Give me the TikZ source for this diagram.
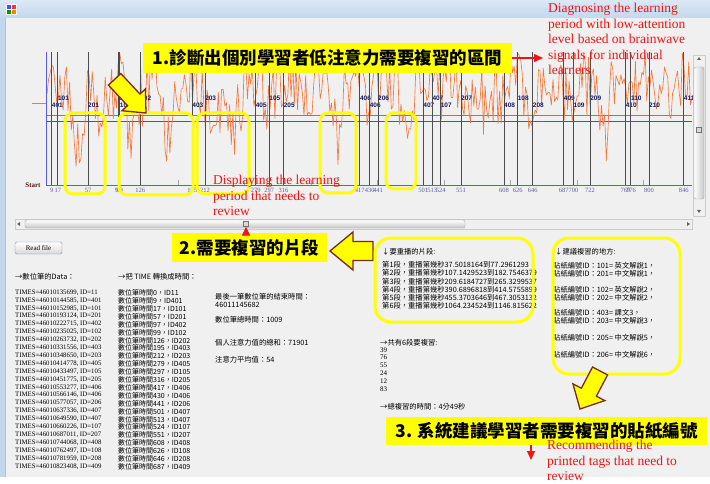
\documentclass[tikz,border=0pt]{standalone}
\usepackage{fontspec}
\setmainfont{Liberation Serif}
\newfontfamily\cjk{Noto Sans CJK TC}
\newfontfamily\uifont{Liberation Sans}
\usetikzlibrary{arrows.meta,positioning}
\definecolor{winbg}{HTML}{F0F0F0}
\definecolor{titletop}{HTML}{DCE8F5}
\definecolor{titlebot}{HTML}{C3D7EC}
\definecolor{marker}{HTML}{FFFF00}
\definecolor{wave}{HTML}{F4783C}
\definecolor{navy}{HTML}{1A1A60}
\definecolor{tickblue}{HTML}{5A5AA8}
\definecolor{axisblue}{HTML}{5A5AF0}
\definecolor{annot}{HTML}{F01414}
\definecolor{arrowrim}{HTML}{7A2A1A}
\definecolor{startred}{HTML}{5A1414}
\pgfmathdeclarefunction{dip}{3}{\pgfmathparse{max(0,1-abs(#1-#2)/#3)}}
\begin{document}
\begin{tikzpicture}[x=1pt,y=-1pt,
  every node/.style={inner sep=0pt},
  small/.style={font=\cjk\fontsize{7.3}{8.2}\selectfont, anchor=west},
  datafont/.style={font=\fontsize{6.8}{7.9}\selectfont, anchor=north west, align=left},
  titlebox/.style={fill=marker, text=black, font=\cjk\bfseries\fontsize{17.5}{20}\selectfont},
  note/.style={text=annot, font=\fontsize{13.5}{15.6}\selectfont, align=left, anchor=north west},
  redarrow/.style={draw=annot, line width=1.4pt, -{Triangle[length=9pt,width=8pt]}},
  markbox/.style={draw=marker, line width=3pt, rounded corners=8pt},
  bigarrow/.style={fill=marker, draw=arrowrim, line width=1.3pt, line join=miter},
  vline/.style={draw=black!70, line width=0.8pt},
  idlabel/.style={font=\uifont\bfseries\fontsize{6.5}{7}\selectfont, text=navy, anchor=west},
  ticklabel/.style={font=\fontsize{6.5}{7}\selectfont, text=tickblue}]
\useasboundingbox (0,0) rectangle (710,484);
% window frame
\fill[white] (0,0) rectangle (710,484);
\fill[winbg] (0,18) rectangle (710,477);
\shade[top color=titletop, bottom color=titlebot] (0,0) rectangle (710,18);
\fill[titlebot] (0,18) rectangle (5,477);
\draw[black!25] (5,18) -- (5,477);
\fill[white] (6,4) rectangle (17,15);
\fill[blue!70] (7,5) rectangle (11,9);
\fill[red!80] (12,5) rectangle (16,9);
\fill[green!60!black] (7,10) rectangle (11,14);
\fill[orange] (12,10) rectangle (16,14);
% brainwave chart
\draw[red!70, line width=0.8pt] (46,115) -- (692,115);
\draw[green!60!black, line width=0.8pt] (46,121) -- (692,121);
\pgfmathsetseed{11}
\draw[wave, line width=0.65pt, line join=round] plot[domain=47:692, samples=400]
  (\x, {max(53, min(176, 88 + 33*rand + 12*sin(11*\x)
   + 62*dip(\x,79,12) + 40*dip(\x,98,5) + 30*dip(\x,128,4)
   + 55*dip(\x,132,8) + 45*dip(\x,168,10) + 50*dip(\x,225,18)
   + 55*dip(\x,338,7) + 50*dip(\x,409,6) + 35*dip(\x,485,6)
   + 50*dip(\x,606,7)))});
\draw[wave, line width=0.65pt] (32,103) -- (46,103);
\foreach \t/\id/\lv in {9/401/105, 17/101/98, 57/201/105, 97/402/98, 99/102/105,
    126/202/98, 195/403/105, 212/203/98, 279/405/105, 297/105/98, 316/205/105,
    417/406/98, 430/406/105, 441/206/98, 501/407/105, 513/407/98, 524/107/105,
    551/207/98, 608/408/105, 626/108/98, 646/208/105, 687/409/98, 700/109/105,
    722/209/98, 769/410/105, 776/110/98, 800/210/105, 846/411/98}
{
  \pgfmathsetmacro\xx{45+0.755*\t}
  \draw[vline] (\xx,52) -- (\xx,186);
  \node[idlabel] (id\t) at (\xx,\lv) {\id};
  \node[ticklabel] (tk\t) at (\xx,190.5) {\t};
}
\foreach \k in {0,...,7}
  \draw[black!35, line width=0.8pt] (178+66.5*\k,180) -- (178+66.5*\k,186);
\draw[axisblue, line width=1pt] (46,52) -- (46,186) -- (692,186);
\node[font=\bfseries\fontsize{7}{8}\selectfont, text=startred] (start) at (33,185) {Start};
% low-attention periods
\draw[markbox] (65,113) rectangle (105,194);
\draw[markbox] (119,113) rectangle (193,195);
\draw[markbox] (197,113) rectangle (249,194);
\draw[markbox] (320,113) rectangle (356,193);
\draw[markbox] (386,113) rectangle (416,189);
% scrollbars
\draw[fill=black!6, draw=black!20] (15,219) rectangle (692,229);
\draw[rounded corners=2pt, top color=white, bottom color=black!22, draw=black!35] (25,220) rectangle (465,228);
\node[draw=black!55, fill=black!15, minimum width=5, minimum height=5] (grip) at (246,224) {};
\fill[black!60] (17,224) -- (20,222) -- (20,226) -- cycle;
\fill[black!60] (690,224) -- (687,222) -- (687,226) -- cycle;
\draw[fill=black!6, draw=black!20] (693,55) rectangle (705,216);
\draw[rounded corners=2pt, left color=white, right color=black!22, draw=black!35] (694,67) rectangle (704,199);
\node[draw=black!55, fill=black!15, minimum width=5, minimum height=5] (vgrip) at (699,130) {};
\fill[black!60] (699,57) -- (697,60) -- (701,60) -- cycle;
\fill[black!60] (699,213) -- (697,210) -- (701,210) -- cycle;
% step 1
\node[titlebox, minimum width=369, minimum height=30] (title1) at (327.5,58) {1.診斷出個別學習者低注意力需要複習的區間};
\node[note] (note1) at (548,3) {Diagnosing the learning\\period with low-attention\\level based on brainwave\\signals for individual\\learners};
\draw[redarrow] (title1.east) -- ([xshift=-5pt]note1.west |- title1.east);
\draw[bigarrow, shift={(146,113)}, rotate=-47] (0,0) -- (-18,-16) -- (-18,-8.5) -- (-46,-8.5) -- (-46,8.5) -- (-18,8.5) -- (-18,16) -- cycle;
\node[note] (note2) at (213,175) {Displaying the learning\\period that needs to\\review};
% step 2
\node[titlebox, minimum width=155, minimum height=29] (title2) at (249.5,247.5) {2.需要複習的片段};
\draw[redarrow] (title2.north -| grip.south) -- (grip.south);
\draw[bigarrow, shift={(330,251)}, rotate=180] (0,0) -- (-23,-19) -- (-23,-9.5) -- (-43,-9.5) -- (-43,9.5) -- (-23,9.5) -- (-23,19) -- cycle;
% read-out panel
\node[draw={rgb,255:red,112;green,144;blue,176}, rounded corners=2pt, top color=white, bottom color=black!15,
  minimum width=47, minimum height=12, font=\fontsize{7}{8}\selectfont] (readbtn) at (38.5,248) {Read file};
\node[small] (hdata) at (15,277) {→數位筆的Data：};
\node[small] (htime) at (118,277) {→把 TIME 轉換成時間：};
\node[datafont] (rawdata) at (15,289.5) {TIMES=46010135699, ID=11\\TIMES=46010144585, ID=401\\TIMES=46010152985, ID=101\\TIMES=46010193124, ID=201\\TIMES=46010222715, ID=402\\TIMES=46010235025, ID=102\\TIMES=46010263732, ID=202\\TIMES=46010331556, ID=403\\TIMES=46010348650, ID=203\\TIMES=46010414778, ID=405\\TIMES=46010433497, ID=105\\TIMES=46010451775, ID=205\\TIMES=46010553277, ID=406\\TIMES=46010566146, ID=406\\TIMES=46010577057, ID=206\\TIMES=46010637336, ID=407\\TIMES=46010649590, ID=407\\TIMES=46010660226, ID=107\\TIMES=46010687011, ID=207\\TIMES=46010744068, ID=408\\TIMES=46010762497, ID=108\\TIMES=46010781959, ID=208\\TIMES=46010823408, ID=409};
\node[datafont, font=\cjk\fontsize{7}{7.9}\selectfont] (pentime) at (118,289.5) {數位筆時間0，ID11\\數位筆時間9，ID401\\數位筆時間17，ID101\\數位筆時間57，ID201\\數位筆時間97，ID402\\數位筆時間99，ID102\\數位筆時間126，ID202\\數位筆時間195，ID403\\數位筆時間212，ID203\\數位筆時間279，ID405\\數位筆時間297，ID105\\數位筆時間316，ID205\\數位筆時間417，ID406\\數位筆時間430，ID406\\數位筆時間441，ID206\\數位筆時間501，ID407\\數位筆時間513，ID407\\數位筆時間524，ID107\\數位筆時間551，ID207\\數位筆時間608，ID408\\數位筆時間626，ID108\\數位筆時間646，ID208\\數位筆時間687，ID409};
\node[small] (lastend) at (215,297) {最後一筆數位筆的結束時間：};
\node[small] (lastval) at (215,305) {46011145682};
\node[small] (total) at (215,320) {數位筆總時間：1009};
\node[small] (sum) at (215,343) {個人注意力值的總和：71901};
\node[small] (mean) at (215,360) {注意力平均值：54};
% segments to replay
\node[small] (hreplay) at (382,252) {↓要重播的片段:};
\foreach \yy/\txt [count=\k] in {265/第1段，重播第幾秒37.5018164到77.2961293,
    273.2/第2段，重播第幾秒107.1429523到182.7546379, 281.4/第3段，重播第幾秒209.6184727到265.3299537,
    289.6/第4段，重播第幾秒390.6896818到414.5755899, 297.8/第5段，重播第幾秒455.3703646到467.3053132,
    306/第6段，重播第幾秒1064.234524到1146.815622}
  \node[small] (seg\k) at (382,\yy) {\txt};
\draw[markbox, rounded corners=16pt] (375,238) rectangle (533,322);
\node[small] (hcount) at (380,343) {→共有6段要複習:};
\foreach \yy/\n in {350/39, 357.5/76, 365/55, 373/24, 381/12, 389/83}
  \node[font=\fontsize{7}{8}\selectfont, anchor=west] (cnt\n) at (380,\yy) {\n};
\node[small] (htotal) at (380,407) {→總複習的時間：4分49秒};
% recommended tags
\node[small] (htags) at (555,252) {↓建議複習的地方:};
\foreach \yy/\txt [count=\k] in {266/貼紙編號ID：101= 英文解說1，, 274/貼紙編號ID：201= 中文解說1，,
    290/貼紙編號ID：102= 英文解說2，, 298/貼紙編號ID：202= 中文解說2，,
    313/貼紙編號ID：403= 課文3，, 321/貼紙編號ID：203= 中文解說3，,
    338/貼紙編號ID：205= 中文解說5，, 355/貼紙編號ID：206= 中文解說6，}
  \node[small] (tag\k) at (553,\yy) {\txt};
\draw[markbox, rounded corners=16pt] (553,238) rectangle (680,374);
% step 3
\draw[bigarrow, shift={(580,409)}, rotate=-117.8] (0,0) -- (-19,-18) -- (-19,-8.5) -- (-43,-8.5) -- (-43,8.5) -- (-19,8.5) -- (-19,18) -- cycle;
\node[titlebox, minimum width=321, minimum height=28] (title3) at (546.5,431) {3. 系統建議學習者需要複習的貼紙編號};
\coordinate (n3tip) at (531,460);
\draw[redarrow] (title3.south -| n3tip) -- (n3tip);
\node[note] (note3) at (547,440) {Recommending the\\printed tags that need to\\review};
\end{tikzpicture}
\end{document}
